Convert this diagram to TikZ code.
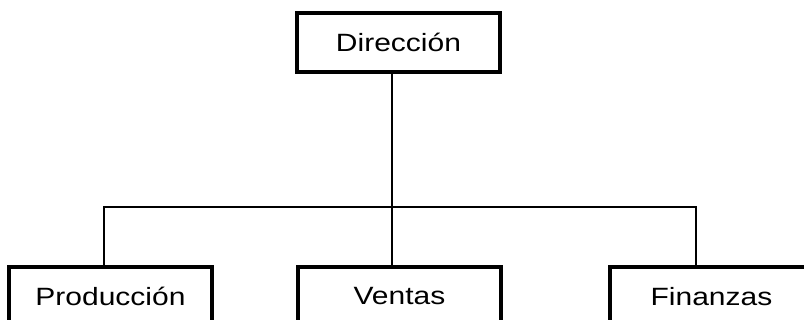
\documentclass[tikz,border=0pt]{standalone}
\usepackage{fontspec}
\setmainfont{Liberation Sans}[FakeStretch=1.2]
\begin{document}
\begin{tikzpicture}[x=1pt,y=-1pt]
        \useasboundingbox (0,0) rectangle (804,320);
        \clip (0,0) rectangle (804,320);
        \tikzset{unidad/.style={draw, line width=3.2pt, minimum width=203pt, minimum height=59pt, inner sep=0pt, font=\fontsize{25}{30}\selectfont}}
        \node[unidad] (dir) at (398.5,42.5) {Dirección};
        \node[unidad] (prod) at (110.5,296.5) {Producción};
        \node[unidad] (vent) at (399.5,296.5) {Ventas};
        \node[unidad] (fin) at (711.5,296.5) {Finanzas};
        % barra de reparto
        \coordinate (busl) at (104,207);
        \coordinate (busm) at (392,207);
        \coordinate (busr) at (696,207);
        \draw [line width=1.4pt](busl |- prod.north)--(busl)--(busr)--(busr |- fin.north);
        \draw [line width=1.4pt](busm |- dir.south)--(busm |- vent.north);
    \end{tikzpicture}
\end{document}
